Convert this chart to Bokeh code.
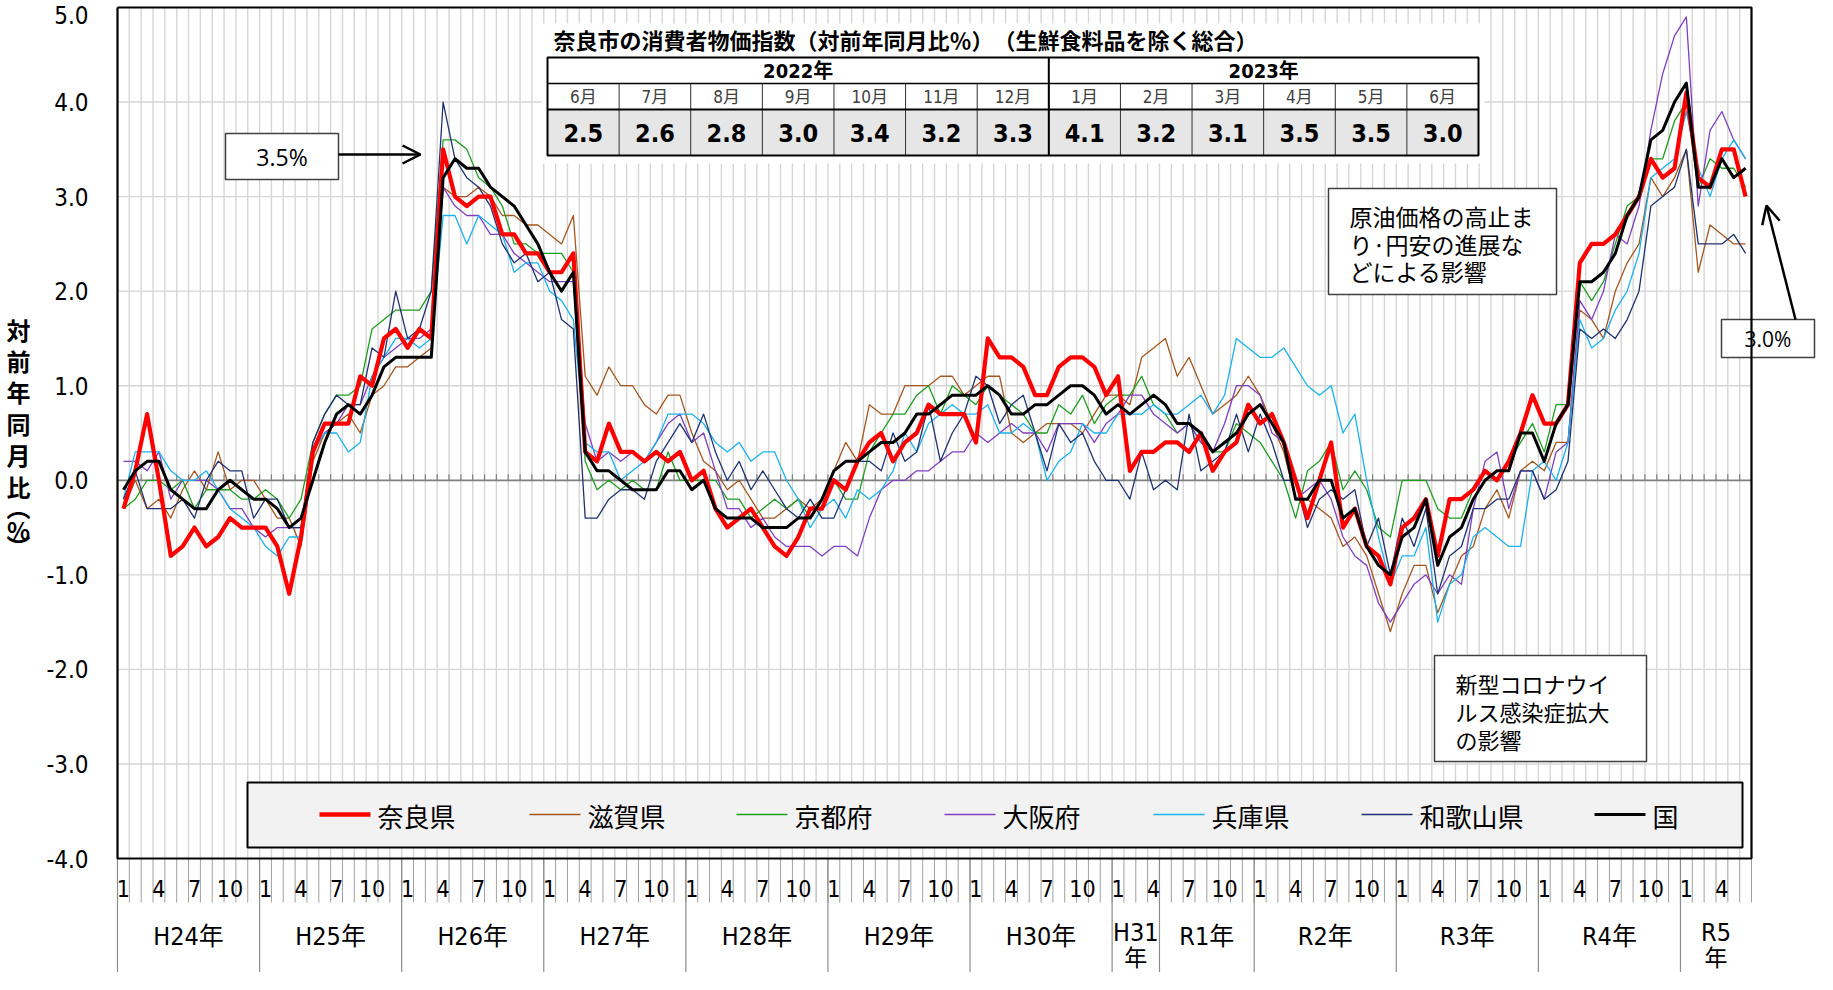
import numpy as np
from bokeh.plotting import figure
from bokeh.models import Range1d, Arrow, OpenHead
from bokeh.core.properties import value
from bokeh.embed import file_html
from bokeh.resources import INLINE

# ---------------- data (monthly, Jan 2012 .. Jun 2023) ----------------
series_names = ["奈良県", "滋賀県", "京都府", "大阪府", "兵庫県", "和歌山県", "国"]

nara = [
    -0.3, 0.1, 0.7, 0.0, -0.8, -0.7, -0.5, -0.7, -0.6, -0.4, -0.5, -0.5,
    -0.5, -0.7, -1.2, -0.6, 0.3, 0.6, 0.6, 0.6, 1.1, 1.0, 1.5, 1.6,
    1.4, 1.6, 1.5, 3.5, 3.0, 2.9, 3.0, 3.0, 2.6, 2.6, 2.4, 2.4,
    2.2, 2.2, 2.4, 0.3, 0.2, 0.6, 0.3, 0.3, 0.2, 0.3, 0.2, 0.3,
    0.0, 0.1, -0.3, -0.5, -0.4, -0.3, -0.5, -0.7, -0.8, -0.6, -0.3, -0.3,
    0.0, -0.1, 0.2, 0.4, 0.5, 0.2, 0.4, 0.5, 0.8, 0.7, 0.7, 0.7,
    0.4, 1.5, 1.3, 1.3, 1.2, 0.9, 0.9, 1.2, 1.3, 1.3, 1.2, 0.9,
    1.1, 0.1, 0.3, 0.3, 0.4, 0.4, 0.3, 0.5, 0.1, 0.3, 0.4, 0.8,
    0.6, 0.7, 0.4, 0.0, -0.4, 0.0, 0.4, -0.5, -0.3, -0.7, -0.8, -1.1,
    -0.5, -0.4, -0.2, -0.8, -0.2, -0.2, -0.1, 0.1, 0.0, 0.2, 0.5, 0.9,
    0.6, 0.6, 0.8, 2.3, 2.5, 2.5, 2.6, 2.8, 3.0, 3.4, 3.2, 3.3,
    4.1, 3.2, 3.1, 3.5, 3.5, 3.0,
]
shiga = [
    -0.3, 0.0, -0.3, -0.2, -0.4, -0.1, 0.1, -0.1, 0.3, -0.1, 0.0, 0.0,
    -0.2, -0.4, -0.4, -0.7, 0.2, 0.5, 0.6, 0.7, 0.5, 0.9, 1.0, 1.2,
    1.2, 1.3, 1.4, 3.1, 3.0, 3.0, 3.1, 3.0, 2.8, 2.8, 2.7, 2.7,
    2.6, 2.5, 2.8, 1.1, 0.9, 1.2, 1.0, 1.0, 0.8, 0.7, 0.9, 0.9,
    0.5, 0.2, 0.1, -0.1, 0.0, -0.2, -0.4, -0.4, -0.3, -0.2, -0.3, -0.2,
    0.1, 0.4, 0.2, 0.8, 0.7, 0.7, 1.0, 1.0, 1.0, 1.1, 1.1, 0.9,
    1.0, 1.1, 1.1, 0.5, 0.4, 0.5, 0.6, 0.6, 0.6, 0.5, 0.7, 0.9,
    0.9, 0.8, 1.3, 1.4, 1.5, 1.1, 1.3, 1.0, 0.7, 0.8, 0.9, 1.1,
    0.9, 0.6, 0.3, -0.2, -0.2, -0.3, -0.4, -0.7, -0.6, -0.8, -1.2, -1.6,
    -1.2, -0.9, -0.9, -1.4, -1.1, -0.8, -0.7, -0.3, -0.1, -0.4, 0.1, 0.2,
    0.1, 0.4, 0.4, 1.8, 1.7, 1.5, 2.0, 2.3, 2.5, 3.2, 3.0, 3.2,
    3.5, 2.2, 2.7, 2.6, 2.5, 2.5,
]
kyoto = [
    -0.3, -0.2, 0.0, 0.0, -0.1, 0.0, -0.3, -0.1, -0.1, -0.1, -0.2, -0.2,
    -0.1, -0.2, -0.4, -0.2, 0.4, 0.7, 0.9, 0.9, 1.0, 1.6, 1.7, 1.8,
    1.8, 1.8, 2.0, 3.6, 3.6, 3.5, 3.2, 3.1, 2.9, 2.5, 2.5, 2.4,
    2.4, 2.4, 2.2, 0.2, -0.1, 0.0, -0.1, 0.0, -0.1, -0.1, 0.3, 0.0,
    0.0, 0.0, 0.0, -0.2, -0.2, -0.4, -0.3, -0.2, -0.3, -0.2, -0.4, -0.2,
    0.0, -0.2, -0.2, 0.3, 0.5, 0.7, 0.7, 0.9, 1.0, 0.7, 1.0, 0.9,
    0.8, 1.0, 0.9, 0.8, 0.7, 0.5, 0.5, 0.8, 0.7, 0.9, 0.6, 0.8,
    0.9, 0.9, 1.1, 0.8, 0.7, 0.5, 0.6, 0.4, 0.3, 0.3, 0.6, 0.5,
    0.4, 0.2, 0.0, -0.4, 0.1, 0.2, 0.4, -0.1, 0.1, -0.1, -0.5, -0.6,
    0.0, 0.0, 0.0, -0.3, -0.4, -0.4, -0.1, 0.1, 0.0, 0.2, 0.4, 0.6,
    0.3, 0.8, 0.8, 2.1, 1.9, 2.1, 2.5, 2.9, 3.0, 3.4, 3.4, 3.8,
    4.0, 3.1, 3.4, 3.3, 3.3, 3.1,
]
osaka = [
    0.2, 0.2, 0.1, 0.3, -0.2, 0.0, 0.0, 0.0, -0.1, -0.3, -0.3, -0.5,
    -0.6, -0.5, -0.5, -0.5, 0.3, 0.5, 0.6, 0.8, 0.8, 1.1, 1.3, 1.4,
    1.5, 1.5, 1.6, 3.1, 2.9, 2.8, 2.8, 2.6, 2.6, 2.4, 2.3, 2.2,
    2.1, 2.1, 2.1, 0.6, 0.2, 0.3, 0.2, 0.3, 0.2, 0.4, 0.6, 0.7,
    0.4, 0.5, 0.1, -0.3, -0.3, -0.5, -0.4, -0.6, -0.7, -0.7, -0.7, -0.8,
    -0.7, -0.7, -0.8, -0.4, -0.1, 0.0, 0.0, 0.1, 0.1, 0.2, 0.3, 0.3,
    0.5, 0.4, 0.5, 0.6, 0.5, 0.5, 0.3, 0.6, 0.6, 0.6, 0.4, 0.6,
    0.7, 0.9, 0.9, 0.7, 0.6, 0.5, 0.6, 0.4, 0.3, 0.6, 1.0, 1.0,
    0.9, 0.5, 0.4, -0.2, -0.1, 0.0, -0.2, -0.6, -0.8, -0.9, -1.3, -1.5,
    -1.3, -1.1, -1.0, -1.2, -1.0, -1.1, -0.3, 0.2, 0.3, -0.3, 0.1, 0.1,
    -0.2, 0.3, 0.4, 1.9, 1.7, 2.0, 2.6, 2.5, 2.9, 3.7, 4.3, 4.7,
    4.9, 2.9, 3.7, 3.9, 3.6, 3.4,
]
hyogo = [
    -0.2, 0.3, 0.3, 0.3, 0.1, 0.0, 0.0, 0.1, -0.1, -0.3, -0.4, -0.5,
    -0.7, -0.8, -0.6, -0.6, 0.3, 0.5, 0.5, 0.3, 0.4, 1.1, 1.3, 1.5,
    1.5, 1.4, 1.5, 2.8, 2.8, 2.5, 2.8, 2.7, 2.6, 2.2, 2.3, 2.3,
    2.0, 1.9, 1.7, 0.4, 0.3, 0.3, 0.0, 0.1, 0.2, 0.4, 0.7, 0.7,
    0.7, 0.6, 0.4, 0.3, 0.4, 0.2, 0.3, 0.3, 0.0, -0.2, -0.5, -0.3,
    -0.2, -0.4, -0.1, -0.2, -0.1, 0.1, 0.5, 0.3, 0.6, 0.7, 0.8, 0.7,
    0.7, 0.8, 0.5, 0.5, 0.6, 0.5, 0.0, 0.2, 0.3, 0.6, 0.5, 0.5,
    0.7, 0.7, 0.7, 0.8, 0.7, 0.7, 0.8, 0.9, 0.7, 0.9, 1.5, 1.4,
    1.3, 1.3, 1.4, 1.2, 1.0, 0.9, 1.0, 0.5, 0.7, 0.0, -0.6, -1.1,
    -0.8, -0.8, -0.5, -1.5, -1.1, -1.0, -0.6, -0.5, -0.6, -0.7, -0.7, 0.1,
    0.2, 0.0, 0.4, 1.7, 1.4, 1.5, 1.8, 2.0, 2.4, 3.2, 3.3, 3.4,
    3.9, 3.3, 3.0, 3.4, 3.6, 3.4,
]
wakayama = [
    -0.2, 0.1, -0.3, -0.3, -0.3, -0.2, -0.4, 0.0, 0.2, 0.1, 0.1, -0.4,
    -0.2, -0.2, -0.5, -0.5, 0.4, 0.7, 0.9, 0.8, 0.8, 1.4, 1.3, 2.0,
    1.5, 1.6, 2.0, 4.0, 3.4, 3.2, 3.1, 2.9, 2.5, 2.3, 2.4, 2.1,
    2.2, 1.7, 1.6, -0.4, -0.4, -0.2, -0.1, -0.1, -0.2, 0.2, 0.4, 0.6,
    0.4, 0.7, 0.3, 0.0, 0.2, -0.1, 0.1, -0.1, -0.3, -0.4, -0.2, -0.4,
    -0.4, -0.1, 0.2, 0.2, 0.1, 0.5, 0.2, 0.3, 0.8, 0.2, 0.5, 0.7,
    1.1, 1.0, 0.6, 0.8, 0.9, 0.5, 0.1, 0.6, 0.4, 0.5, 0.2, 0.0,
    0.0, -0.2, 0.3, -0.1, 0.0, -0.1, 0.7, 0.1, 0.2, 0.3, 0.7, 0.3,
    0.7, 0.4, 0.0, 0.0, -0.5, -0.2, -0.1, -0.2, -0.1, -0.7, -0.4, -1.0,
    -0.4, -0.7, -0.3, -1.2, -0.8, -0.7, -0.3, -0.3, -0.2, -0.2, 0.1, 0.1,
    -0.2, -0.1, 0.2, 1.6, 1.5, 1.6, 1.5, 1.7, 2.0, 2.9, 3.0, 3.1,
    3.5, 2.5, 2.5, 2.5, 2.6, 2.4,
]
national = [
    -0.1, 0.1, 0.2, 0.2, -0.1, -0.2, -0.3, -0.3, -0.1, 0.0, -0.1, -0.2,
    -0.2, -0.3, -0.5, -0.4, 0.0, 0.4, 0.7, 0.8, 0.7, 0.9, 1.2, 1.3,
    1.3, 1.3, 1.3, 3.2, 3.4, 3.3, 3.3, 3.1, 3.0, 2.9, 2.7, 2.5,
    2.2, 2.0, 2.2, 0.3, 0.1, 0.1, 0.0, -0.1, -0.1, -0.1, 0.1, 0.1,
    -0.1, 0.0, -0.3, -0.4, -0.4, -0.4, -0.5, -0.5, -0.5, -0.4, -0.4, -0.2,
    0.1, 0.2, 0.2, 0.3, 0.4, 0.4, 0.5, 0.7, 0.7, 0.8, 0.9, 0.9,
    0.9, 1.0, 0.9, 0.7, 0.7, 0.8, 0.8, 0.9, 1.0, 1.0, 0.9, 0.7,
    0.8, 0.7, 0.8, 0.9, 0.8, 0.6, 0.6, 0.5, 0.3, 0.4, 0.5, 0.7,
    0.8, 0.6, 0.4, -0.2, -0.2, 0.0, 0.0, -0.4, -0.3, -0.7, -0.9, -1.0,
    -0.6, -0.5, -0.2, -0.9, -0.6, -0.5, -0.2, 0.0, 0.1, 0.1, 0.5, 0.5,
    0.2, 0.6, 0.8, 2.1, 2.1, 2.2, 2.4, 2.8, 3.0, 3.6, 3.7, 4.0,
    4.2, 3.1, 3.1, 3.4, 3.2, 3.3,
]

y_ticks = [-4.0, -3.0, -2.0, -1.0, 0.0, 1.0, 2.0, 3.0, 4.0, 5.0]
month_tick_labels = {1: "1", 4: "4", 7: "7", 10: "10"}
year_labels = ["H24年", "H25年", "H26年", "H27年", "H28年", "H29年", "H30年",
               "H31\n年", "R1年", "R2年", "R3年", "R4年", "R5\n年"]
year_spans = [12, 12, 12, 12, 12, 12, 12, 4, 8, 12, 12, 12, 6]

table_title = "奈良市の消費者物価指数（対前年同月比％）　（生鮮食料品を除く総合）"
table_years = ["2022年", "2023年"]
table_year_spans = [7, 6]
table_months = ["6月", "7月", "8月", "9月", "10月", "11月", "12月",
                "1月", "2月", "3月", "4月", "5月", "6月"]
table_values = [2.5, 2.6, 2.8, 3.0, 3.4, 3.2, 3.3, 4.1, 3.2, 3.1, 3.5, 3.5, 3.0]

note_oil = ["原油価格の高止ま", "り·円安の進展な", "どによる影響"]
note_covid = ["新型コロナウイ", "ルス感染症拡大", "の影響"]
callout_left = "3.5%"
callout_right = "3.0%"
y_title_chars = ["対", "前", "年", "同", "月", "比", "︵", "%", "︶"]

# ---------------- layout (reference pixel geometry) ----------------
FIG_W, FIG_H, MARGIN = 1816, 972, 8
BOX_L, BOX_R, BOX_T, BOX_B = 125.0, 1759.0, 15.0, 866.0
Y_MIN, Y_MAX = -4.0, 5.0
N = len(nara)
PXM = (BOX_R - BOX_L) / N
PXU = (BOX_B - BOX_T) / (Y_MAX - Y_MIN)


def X(px):
    return (px - BOX_L) / PXM


def Y(py):
    return Y_MAX - (py - BOX_T) / PXU


NUM_FONT = "Liberation Sans Narrow, DejaVu Sans Condensed, Noto Sans CJK JP"
JP_FONT = "Noto Sans CJK JP"

# the frame covers the whole canvas; everything is placed through the data scales
p = figure(width=FIG_W, height=FIG_H, title=None,
           x_range=Range1d(X(MARGIN), X(FIG_W + MARGIN)),
           y_range=Range1d(Y(FIG_H + MARGIN), Y(MARGIN)),
           min_border_left=0, min_border_top=0, min_border_right=0, min_border_bottom=0,
           x_axis_location=None, y_axis_location=None,
           toolbar_location=None, output_backend="svg")
p.outline_line_color = None
p.grid.visible = False
p.background_fill_color = "white"
p.border_fill_color = "white"

# ---- y tick labels and vertical axis title ----
# the top label is nudged down a little so that it stays inside the page
tick_label_y = [v if v < Y_MAX else Y(22) for v in y_ticks]
p.text(x=X(96), y=tick_label_y, text=["%.1f" % v for v in y_ticks], text_font=value(NUM_FONT),
       text_font_size="24px", text_align="right", text_baseline="middle", text_color="black")
p.text(x=X(26), y=[Y(c) for c in [337, 368, 399, 431, 462, 494, 514, 537, 553]],
       text=y_title_chars, text_font=value(JP_FONT), text_font_size="24px",
       text_font_style="bold", text_align="center", text_baseline="middle", text_color="black")

# ---- grid ----
GRID = "#d6d6d6"
bounds = np.arange(1, N)
p.segment(x0=bounds, y0=Y_MIN, x1=bounds, y1=Y_MAX, line_color=GRID, line_width=1.4)
hy = [v for v in y_ticks if v not in (Y_MIN, Y_MAX, 0.0)]
p.segment(x0=0, y0=hy, x1=N, y1=hy, line_color=GRID, line_width=1.4)
p.segment(x0=0, y0=0, x1=N, y1=0, line_color="#808080", line_width=1.8)
tk = np.arange(0, N + 1)
p.segment(x0=tk, y0=0, x1=tk, y1=6 / PXU, line_color="#808080", line_width=1.2)

# ---- category label rows below the chart ----
p.segment(x0=tk, y0=Y(BOX_B), x1=tk, y1=Y(910), line_color="#a0a0a0", line_width=1)
ybounds = np.concatenate([[0], np.cumsum(year_spans)[:-1]])
p.segment(x0=ybounds, y0=Y(BOX_B), x1=ybounds, y1=Y(FIG_H + MARGIN + 10),
          line_color="#8c8c8c", line_width=1.2)
mx, mt = [], []
for i in range(N):
    m = i % 12 + 1
    if m in month_tick_labels:
        mx.append(i + 0.5)
        mt.append(month_tick_labels[m])
p.text(x=mx, y=Y(896), text=mt, text_font=value(NUM_FONT), text_font_size="23px",
       text_align="center", text_baseline="middle", text_color="black")
ycent = ybounds + np.array(year_spans) / 2.0
l1x, l1y, l1t, l2x, l2t = [], [], [], [], []
for cx, lab in zip(ycent, year_labels):
    parts = lab.split("\n")
    l1x.append(cx)
    l1t.append(parts[0])
    l1y.append(Y(944) if len(parts) == 1 else Y(940))
    if len(parts) > 1:
        l2x.append(cx)
        l2t.append(parts[1])
p.text(x=l1x, y=l1y, text=l1t, text_font=value(NUM_FONT), text_font_size="25px",
       text_align="center", text_baseline="middle", text_color="black")
p.text(x=l2x, y=Y(965), text=l2t, text_font=value(NUM_FONT), text_font_size="23px",
       text_align="center", text_baseline="middle", text_color="black")

# ---- table panel ----
p.quad(left=X(549), right=X(1492), top=Y(31), bottom=Y(171), fill_color="white", line_color=None)
p.text(x=X(561), y=Y(46), text=[table_title], text_font=value(JP_FONT), text_font_size="22px",
       text_font_style="bold", text_align="left", text_baseline="middle", text_color="black")
T_L, T_R, T_T, T_R1, T_R2, T_B = 555.0, 1486.0, 65.0, 91.0, 117.0, 163.0
CW = (T_R - T_L) / len(table_months)
p.quad(left=X(T_L), right=X(T_R), top=Y(T_R2), bottom=Y(T_B), fill_color="#e6e6e6", line_color=None)
colx = [T_L + CW * k for k in range(1, len(table_months))]
p.segment(x0=[X(c) for c in colx], y0=Y(T_R1), x1=[X(c) for c in colx], y1=Y(T_B),
          line_color="#303030", line_width=1)
split = T_L + CW * table_year_spans[0]
p.segment(x0=X(split), y0=Y(T_T), x1=X(split), y1=Y(T_B), line_color="black", line_width=2)
p.segment(x0=X(T_L), y0=[Y(T_R1), Y(T_R2)], x1=X(T_R), y1=[Y(T_R1), Y(T_R2)],
          line_color="black", line_width=[1.5, 2])
p.quad(left=X(T_L), right=X(T_R), top=Y(T_T), bottom=Y(T_B), fill_color=None,
       line_color="black", line_width=2)
ystarts = np.concatenate([[0], np.cumsum(table_year_spans)[:-1]])
p.text(x=[X(T_L + CW * (s + n / 2.0)) for s, n in zip(ystarts, table_year_spans)], y=Y(78),
       text=table_years, text_font=value(NUM_FONT), text_font_size="20px", text_font_style="bold",
       text_align="center", text_baseline="middle", text_color="black")
ccx = [X(T_L + CW * (k + 0.5)) for k in range(len(table_months))]
p.text(x=ccx, y=Y(104), text=table_months, text_font=value(NUM_FONT), text_font_size="17px",
       text_align="center", text_baseline="middle", text_color="#404040")
p.text(x=ccx, y=Y(140.5), text=["%.1f" % v for v in table_values], text_font=value(NUM_FONT),
       text_font_size="25px", text_font_style="bold", text_align="center",
       text_baseline="middle", text_color="black")


# ---- note boxes ----
def note_box(l, r, t, b):
    p.quad(left=X(l), right=X(r), top=Y(t), bottom=Y(b), fill_color="white",
           line_color="#404040", line_width=1.5)


note_box(233, 346, 141, 187)
p.text(x=X(289.5), y=Y(164), text=[callout_left], text_font=value("Open Sans"),
       text_font_size="23px", text_align="center", text_baseline="middle", text_color="black")
note_box(1729, 1822, 327, 365)
p.text(x=X(1775.5), y=Y(346), text=[callout_right], text_font=value("Open Sans"),
       text_font_size="21px", text_align="center", text_baseline="middle", text_color="black")
note_box(1336, 1564, 196, 302)
p.text(x=X(1357), y=[Y(223), Y(251), Y(278)], text=note_oil, text_font=value(JP_FONT),
       text_font_size="23px", text_align="left", text_baseline="middle", text_color="black")
note_box(1442, 1654, 663, 769)
p.text(x=X(1463), y=[Y(690), Y(718), Y(746)], text=note_covid, text_font=value(JP_FONT),
       text_font_size="22px", text_align="left", text_baseline="middle", text_color="black")

# ---- series ----
xm = np.arange(N) + 0.5
thin = [(shiga, "#a5561e"), (kyoto, "#1f9e1f"), (osaka, "#7f3fbf"),
        (hyogo, "#1ab2ef"), (wakayama, "#1f3271")]
for vals, col in thin:
    p.line(xm, vals, line_color=col, line_width=1.3, line_join="round")
p.line(xm, nara, line_color="#ff0000", line_width=4.2, line_join="round")
p.line(xm, national, line_color="black", line_width=3, line_join="round")

# ---- chart border ----
p.line([0, N, N, 0, 0], [Y_MAX, Y_MAX, Y_MIN, Y_MIN, Y_MAX], line_color="black", line_width=2.2)

# ---- arrows ----
p.add_layout(Arrow(end=OpenHead(size=18, line_width=2.5, line_color="black"),
                   x_start=X(346), y_start=Y(162), x_end=X(428), y_end=Y(162),
                   line_width=2.5, line_color="black"))
p.add_layout(Arrow(end=OpenHead(size=18, line_width=2.5, line_color="black"),
                   x_start=X(1803), y_start=Y(327), x_end=X(1774), y_end=Y(213),
                   line_width=2.5, line_color="black"))

# ---- legend ----
p.quad(left=X(255), right=X(1750), top=Y(790), bottom=Y(855), fill_color="#f2f2f2",
       line_color="black", line_width=2)
leg_x = [327, 537, 744, 952, 1161, 1369, 1602]
leg_style = [("#ff0000", 4.5), ("#a5561e", 1.5), ("#1f9e1f", 1.5), ("#7f3fbf", 1.5),
             ("#1ab2ef", 1.5), ("#1f3271", 1.5), ("black", 3.2)]
for lx, (col, lw) in zip(leg_x, leg_style):
    p.line([X(lx), X(lx + 51)], [Y(822), Y(822)], line_color=col, line_width=lw)
p.text(x=[X(lx + 58) for lx in leg_x], y=Y(822.5), text=series_names, text_font=value(JP_FONT),
       text_font_size="26px", text_align="left", text_baseline="middle", text_color="black")

open("out.html", "w").write(file_html(p, INLINE))
